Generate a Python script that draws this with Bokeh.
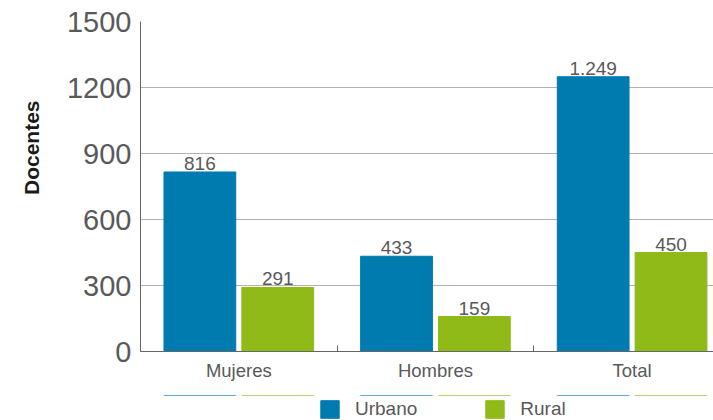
from bokeh.plotting import figure
from bokeh.models import ColumnDataSource, FixedTicker, Legend, LegendItem, Title, Range1d
from bokeh.layouts import column
from bokeh.core.properties import value
from bokeh.embed import file_html
from bokeh.resources import INLINE

categories = ["Mujeres", "Hombres", "Total"]
urbano = [816, 433, 1249]
rural = [291, 159, 450]
urbano_labels = ["816", "433", "1.249"]
rural_labels = ["291", "159", "450"]
series_names = ["Urbano", "Rural"]
y_ticks = [0, 300, 600, 900, 1200, 1500]

FONT = "Liberation Sans"
BLUE = "#007bb0"
GREEN = "#8fba17"
GREY = "#595959"

centers = [i + 0.5 for i in range(len(categories))]
off = 0.198
bw = 0.365

src_u = ColumnDataSource(dict(x=[c - off for c in centers], top=urbano, lab=urbano_labels))
src_r = ColumnDataSource(dict(x=[c + off for c in centers], top=rural, lab=rural_labels))

p = figure(width=713, height=395, output_backend="svg", toolbar_location=None,
           x_range=Range1d(0, 2.914), y_range=Range1d(0, 1500),
           min_border_left=139, min_border_right=0, min_border_top=21, min_border_bottom=44)
p.outline_line_color = None
p.background_fill_color = "white"

p.vbar(x="x", top="top", width=bw, source=src_u, color=BLUE)
p.vbar(x="x", top="top", width=bw, source=src_r, color=GREEN)

p.text(x="x", y="top", text="lab", source=src_u, text_align="center", text_baseline="bottom",
       y_offset=-2, text_font=value(FONT), text_font_size="19px", text_color=GREY)
p.text(x="x", y="top", text="lab", source=src_r, text_align="center", text_baseline="bottom",
       y_offset=-2, text_font=value(FONT), text_font_size="19px", text_color=GREY)

# y axis
p.yaxis.ticker = FixedTicker(ticks=y_ticks)
p.yaxis.major_tick_in = 0
p.yaxis.major_tick_out = 0
p.yaxis.minor_tick_in = 0
p.yaxis.minor_tick_out = 0
p.yaxis.axis_line_color = "#666666"
p.yaxis.major_label_text_font = FONT
p.yaxis.major_label_text_font_size = "29px"
p.yaxis.major_label_text_color = GREY
p.yaxis.major_label_standoff = 9
p.ygrid.grid_line_color = "#b3b3b3"
p.ygrid.ticker = FixedTicker(ticks=y_ticks)

# x axis
p.xaxis.ticker = FixedTicker(ticks=centers, minor_ticks=[0, 1, 2, 3])
p.xaxis.major_label_overrides = {c: n for c, n in zip(centers, categories)}
p.xaxis.major_tick_in = 0
p.xaxis.major_tick_out = 0
p.xaxis.minor_tick_in = 6
p.xaxis.minor_tick_out = 0
p.xaxis.minor_tick_line_color = "#666666"
p.xaxis.axis_line_color = "#666666"
p.xaxis.major_label_text_font = FONT
p.xaxis.major_label_text_font_size = "18.5px"
p.xaxis.major_label_text_color = GREY
p.xaxis.major_label_standoff = 8
p.xaxis.axis_label_standoff = 0
p.xgrid.grid_line_color = None

# y title
p.add_layout(Title(text="Docentes", align="right", offset=79, standoff=38, vertical_align="top",
                   text_font=FONT, text_font_size="21px", text_font_style="bold",
                   text_color="#1a1a1a"), "left")

# legend strip (its frame is aligned with the chart frame by the column layout)
p2 = figure(width=713, height=25, output_backend="svg", toolbar_location=None,
            x_range=Range1d(0, 2.914), y_range=Range1d(-2, -1),
            x_axis_location=None, y_axis_location=None,
            min_border_left=0, min_border_right=0, min_border_top=0, min_border_bottom=0)
p2.outline_line_color = None
p2.grid.grid_line_color = None
lu = p2.vbar(x="x", top="top", width=bw, source=src_u, color=BLUE)
lr = p2.vbar(x="x", top="top", width=bw, source=src_r, color=GREEN)
legend = Legend(items=[LegendItem(label=series_names[0], renderers=[lu]),
                       LegendItem(label=series_names[1], renderers=[lr])],
                orientation="horizontal", location=(178, 0),
                glyph_width=23, glyph_height=22, label_standoff=14, spacing=66,
                label_text_font=FONT, label_text_font_size="19px", label_text_color=GREY,
                border_line_color=None, background_fill_alpha=0, padding=0, margin=0)
p2.add_layout(legend, "center")

layout = column(p, p2, spacing=0)
open("out.html", "w").write(file_html(layout, INLINE))
